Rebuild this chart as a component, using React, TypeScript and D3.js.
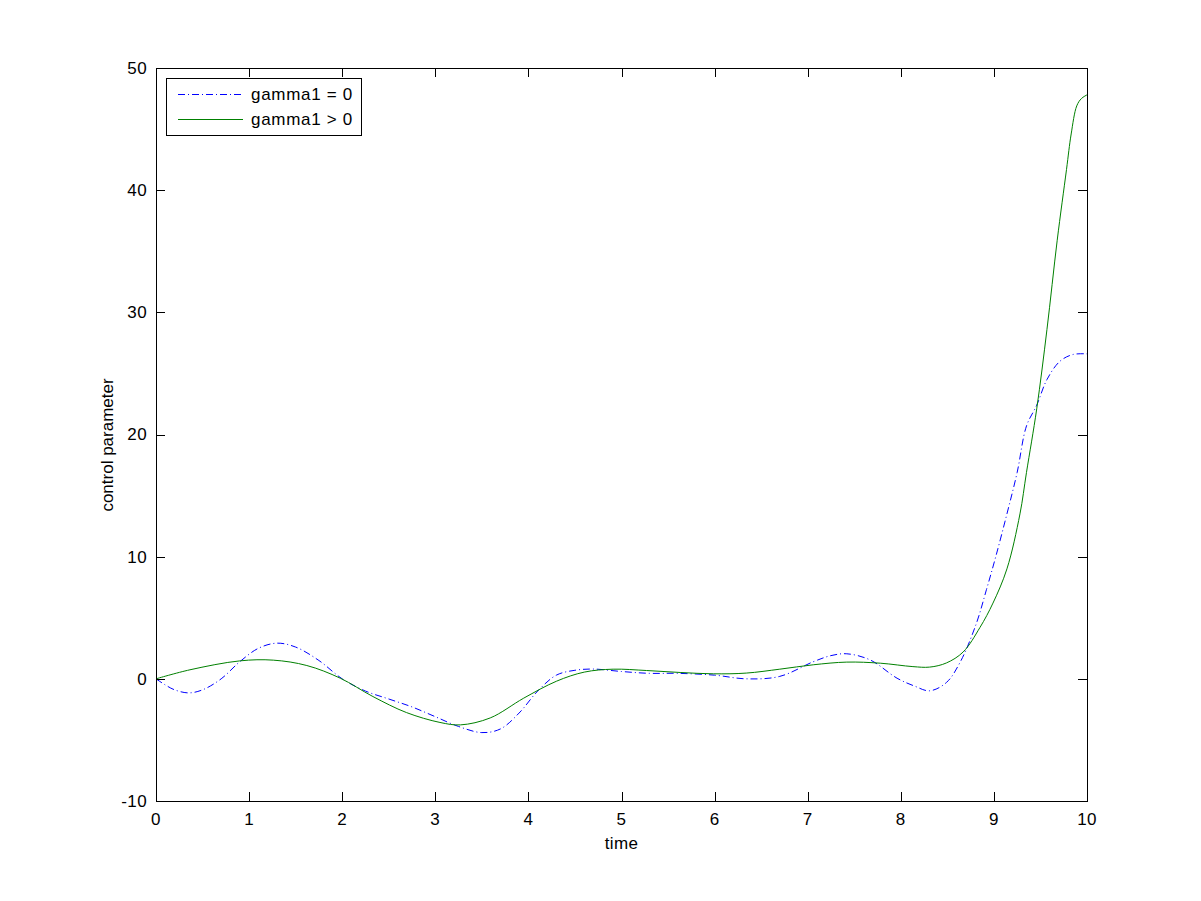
import React, { useEffect, useRef } from "react";
import * as d3 from "d3";

const timeBlue = [0, 0.1, 0.2, 0.35, 0.5, 0.7, 0.9, 1.1, 1.3, 1.5, 1.75, 2.0, 2.25, 2.5, 2.75, 3.0, 3.25, 3.5, 3.7, 3.9, 4.1, 4.3, 4.5, 4.7, 5.0, 5.3, 5.6, 6.0, 6.34, 6.7, 7.06, 7.25, 7.42, 7.67, 7.96, 8.15, 8.31, 8.49, 8.64, 8.81, 8.92, 9.02, 9.14, 9.25, 9.35, 9.46, 9.57, 9.71, 9.85, 10];
const valueBlue = [0, -0.5, -0.9, -1.15, -0.9, 0, 1.4, 2.5, 2.92, 2.6, 1.5, 0, -1.0, -1.65, -2.3, -3.1, -3.9, -4.4, -4.1, -2.8, -1.0, 0.3, 0.7, 0.8, 0.6, 0.45, 0.45, 0.3, 0.0, 0.2, 1.4, 1.9, 2.05, 1.55, 0.05, -0.6, -0.98, -0.3, 1.4, 4.5, 7.3, 10.0, 13.5, 16.9, 20.7, 22.4, 24.5, 26.0, 26.55, 26.6];

const timeGreen = [0, 0.365, 0.9, 1.26, 1.62, 1.98, 2.33, 2.69, 3.05, 3.27, 3.59, 3.95, 4.3, 4.6, 4.91, 5.27, 5.63, 5.99, 6.34, 6.7, 7.06, 7.42, 7.78, 8.13, 8.31, 8.49, 8.67, 8.85, 8.99, 9.14, 9.28, 9.35, 9.46, 9.57, 9.68, 9.78, 9.83, 9.89, 9.94, 10];
const valueGreen = [0, 0.74, 1.47, 1.53, 1.09, 0.05, -1.45, -2.76, -3.57, -3.77, -3.2, -1.58, -0.2, 0.55, 0.79, 0.68, 0.52, 0.41, 0.47, 0.79, 1.15, 1.37, 1.28, 1.0, 0.96, 1.3, 2.2, 4.2, 6.2, 9.0, 13.5, 16.9, 22.1, 28.6, 35.9, 41.7, 44.6, 46.9, 47.5, 47.8];

const xTicks = [0, 1, 2, 3, 4, 5, 6, 7, 8, 9, 10];
const yTicks = [-10, 0, 10, 20, 30, 40, 50];
const legendLabels = ["gamma1 = 0", "gamma1 > 0"];

export default function App() {
  const svgRef = useRef<SVGSVGElement>(null);
  const width = 1201;
  const height = 901;

  useEffect(() => {
    const marginLeft = 156;
    const marginRight = 1087;
    const marginTop = 68;
    const marginBottom = 801;

    const svg = d3.select(svgRef.current);
    svg.selectAll("*").remove();

    const x = d3.scaleLinear().domain([0, 10]).range([marginLeft, marginRight]);
    const y = d3.scaleLinear().domain([-10, 50]).range([marginBottom, marginTop]);

    const font = "'Liberation Sans', Arial, sans-serif";
    const fontSize = 17;
    const spacing = 0.4;
    const tickLen = 9;

    svg.append("rect").attr("width", width).attr("height", height).attr("fill", "#fff");

    // lines
    const line = d3
      .line<[number, number]>()
      .x((d) => x(d[0]))
      .y((d) => y(d[1]))
      .curve(d3.curveCatmullRom.alpha(0.5));

    const blueData = timeBlue.map((t, i) => [t, valueBlue[i]] as [number, number]);
    const greenData = timeGreen.map((t, i) => [t, valueGreen[i]] as [number, number]);

    svg
      .append("path")
      .attr("d", line(blueData))
      .attr("fill", "none")
      .attr("stroke", "#0000ff")
      .attr("stroke-width", 1)
      .attr("stroke-dasharray", "7,3,1,3");

    svg
      .append("path")
      .attr("d", line(greenData))
      .attr("fill", "none")
      .attr("stroke", "#008000")
      .attr("stroke-width", 1);

    // frame
    svg
      .append("rect")
      .attr("x", marginLeft + 0.5)
      .attr("y", marginTop + 0.5)
      .attr("width", marginRight - marginLeft)
      .attr("height", marginBottom - marginTop)
      .attr("fill", "none")
      .attr("stroke", "#000")
      .attr("stroke-width", 1);

    // x ticks
    const gx = svg.append("g");
    xTicks.forEach((t) => {
      const px = Math.round(x(t)) + 0.5;
      gx.append("line").attr("x1", px).attr("x2", px).attr("y1", marginBottom).attr("y2", marginBottom - tickLen).attr("stroke", "#000");
      gx.append("line").attr("x1", px).attr("x2", px).attr("y1", marginTop).attr("y2", marginTop + tickLen).attr("stroke", "#000");
      gx.append("text")
        .attr("x", x(t))
        .attr("y", marginBottom + 24)
        .attr("text-anchor", "middle")
        .attr("font-family", font)
        .attr("font-size", fontSize)
        .attr("letter-spacing", spacing)
        .text(t);
    });

    // y ticks
    const gy = svg.append("g");
    yTicks.forEach((v) => {
      const py = Math.round(y(v)) + 0.5;
      gy.append("line").attr("x1", marginLeft).attr("x2", marginLeft + tickLen).attr("y1", py).attr("y2", py).attr("stroke", "#000");
      gy.append("line").attr("x1", marginRight).attr("x2", marginRight - tickLen).attr("y1", py).attr("y2", py).attr("stroke", "#000");
      gy.append("text")
        .attr("x", marginLeft - 9)
        .attr("y", y(v))
        .attr("dy", "0.35em")
        .attr("text-anchor", "end")
        .attr("font-family", font)
        .attr("font-size", fontSize)
        .attr("letter-spacing", spacing)
        .text(v);
    });

    // axis labels
    svg
      .append("text")
      .attr("x", (marginLeft + marginRight) / 2)
      .attr("y", marginBottom + 48)
      .attr("text-anchor", "middle")
      .attr("font-family", font)
      .attr("font-size", fontSize)
      .attr("letter-spacing", spacing)
      .text("time");

    svg
      .append("text")
      .attr("transform", `translate(113,445) rotate(-90)`)
      .attr("text-anchor", "middle")
      .attr("font-family", font)
      .attr("font-size", fontSize)
      .text("control parameter");

    // legend
    const legend = svg.append("g");
    legend
      .append("rect")
      .attr("x", 166.5)
      .attr("y", 78.5)
      .attr("width", 195)
      .attr("height", 57)
      .attr("fill", "#fff")
      .attr("stroke", "#000");

    const colors = ["#0000ff", "#008000"];
    const dashes = ["7,3,1,3", null];
    legendLabels.forEach((label, i) => {
      const ly = 94.5 + i * 25;
      legend
        .append("line")
        .attr("x1", 178)
        .attr("x2", 243)
        .attr("y1", ly)
        .attr("y2", ly)
        .attr("stroke", colors[i])
        .attr("stroke-dasharray", dashes[i]);
      legend
        .append("text")
        .attr("x", 251)
        .attr("y", ly)
        .attr("dy", "0.35em")
        .attr("font-family", font)
        .attr("font-size", fontSize)
        .attr("letter-spacing", 0.7)
        .text(label);
    });
  }, []);

  return (
    <div style={{ position: "absolute", left: 0, top: 0 }}>
      <svg ref={svgRef} width={width} height={height} style={{ display: "block" }} />
    </div>
  );
}
